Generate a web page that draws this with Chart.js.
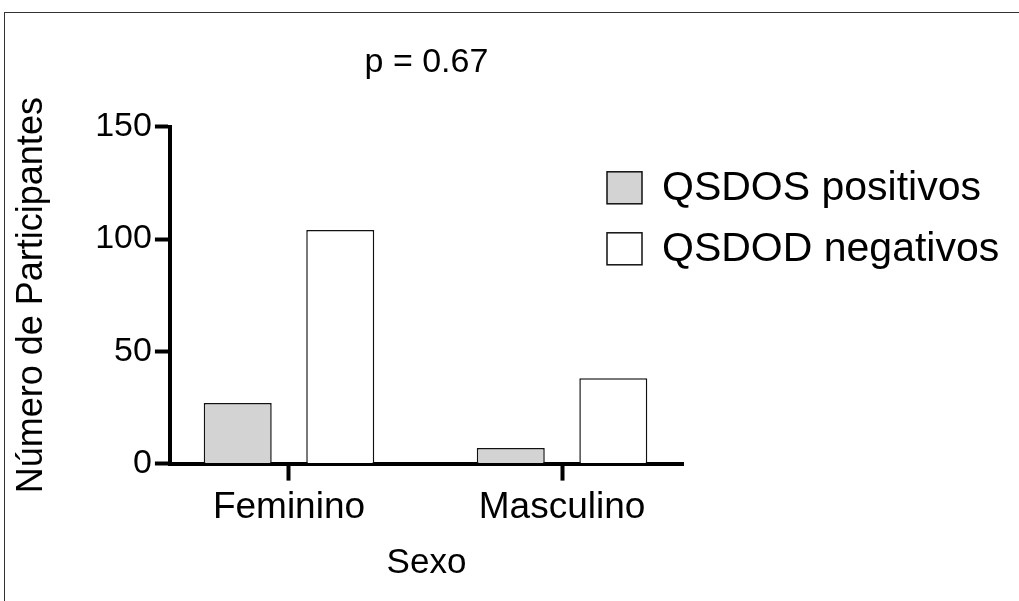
<!DOCTYPE html>
<html>
<head>
<meta charset="utf-8">
<script src="https://cdn.jsdelivr.net/npm/chart.js@4/dist/chart.umd.min.js"></script>
<style>
  html, body { margin: 0; padding: 0; background: #fff; overflow: hidden; }
  #wrap { position: relative; width: 1019px; height: 601px; }
  #frame { position: absolute; left: 4px; top: 12px; width: 1100px; height: 700px;
           border-left: 1.5px solid #333; border-top: 1.5px solid #333; pointer-events: none; }
</style>
</head>
<body>
<div id="wrap">
  <canvas id="sexo-chart" width="1019" height="601"></canvas>
  <div id="frame"></div>
</div>
<script>
// data
const categories = ['Feminino', 'Masculino'];
const positivos = [27, 7];
const negativos = [104, 38];
const yTicks = [0, 50, 100, 150];
const seriesLabels = ['QSDOS positivos', 'QSDOD negativos'];
const pValueText = 'p = 0.67';

Chart.defaults.font.family = '"Liberation Sans", Arial, Helvetica, sans-serif';
Chart.defaults.color = '#000';

// legend sits inside the plot area on the right, so draw it by hand
const sideLegend = {
    id: 'sideLegend',
    afterDraw(chart) {
        const ctx = chart.ctx;
        const area = chart.chartArea;
        const x = area.right - 76;
        ctx.save();
        ctx.font = '41px "Liberation Sans", Arial, sans-serif';
        ctx.textBaseline = 'middle';
        chart.data.datasets.forEach((ds, i) => {
            const cy = area.top + 61 + i * 61;
            ctx.fillStyle = ds.backgroundColor;
            ctx.fillRect(x, cy - 16, 35, 32);
            ctx.lineWidth = 1.5;
            ctx.strokeStyle = '#111';
            ctx.strokeRect(x, cy - 16, 35, 32);
            ctx.fillStyle = '#000';
            ctx.fillText(ds.label, x + 55, cy + 1);
        });
        ctx.restore();
    }
};

const ctx = document.querySelector('#sexo-chart').getContext('2d');

let chart = new Chart(ctx, {
    type: 'bar',
    data: {
        datasets: [
            {
                label: seriesLabels[0],
                data: categories.map((c, i) => ({ x: i, y: positivos[i] })),
                backgroundColor: '#d3d3d3',
                borderColor: '#111',
                borderWidth: 1.5
            },
            {
                label: seriesLabels[1],
                data: categories.map((c, i) => ({ x: i, y: negativos[i] })),
                backgroundColor: '#ffffff',
                borderColor: '#111',
                borderWidth: 1.5
            }
        ]
    },
    options: {
        responsive: false,
        animation: false,
        categoryPercentage: 0.751,
        barPercentage: 0.663,
        layout: { padding: { left: 4, right: 336, top: 0, bottom: 13 } },
        plugins: {
            legend: { display: false },
            tooltip: { enabled: false },
            title: {
                display: true,
                text: pValueText,
                fullSize: false,
                font: { size: 34, weight: 'normal' },
                color: '#000',
                padding: { top: 42, bottom: 44 }
            }
        },
        scales: {
            x: {
                type: 'linear',
                offset: false,
                min: -0.436,
                max: 1.443,
                afterBuildTicks: axis => { axis.ticks = categories.map((c, i) => ({ value: i })); },
                ticks: {
                    callback: v => categories[v],
                    font: { size: 37 },
                    color: '#000',
                    padding: 5,
                    maxRotation: 0,
                    autoSkip: false
                },
                grid: { offset: false, drawOnChartArea: false, drawTicks: true, tickLength: 17, tickWidth: 4, color: '#000' },
                border: { display: true, width: 4, color: '#000' },
                title: {
                    display: true,
                    text: 'Sexo',
                    font: { size: 35 },
                    color: '#000',
                    padding: { top: 7, bottom: 4 }
                }
            },
            y: {
                min: 0,
                max: 150,
                afterBuildTicks: axis => { axis.ticks = yTicks.map(v => ({ value: v })); },
                ticks: { font: { size: 34 }, color: '#000', padding: 3 },
                grid: { drawOnChartArea: false, drawTicks: true, tickLength: 15, tickWidth: 4, color: '#000' },
                border: { display: true, width: 4, color: '#000' },
                title: {
                    display: true,
                    text: 'Número de Participantes',
                    font: { size: 36 },
                    color: '#000',
                    padding: { top: 6, bottom: 39 }
                }
            }
        }
    },
    plugins: [sideLegend]
});
</script>
</body>
</html>
